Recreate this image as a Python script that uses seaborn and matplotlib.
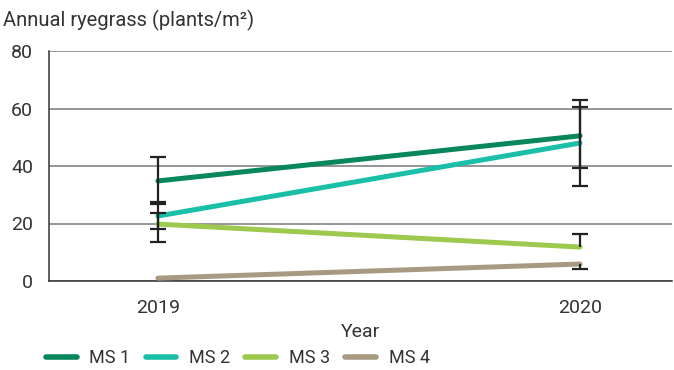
#Annual ryegrass density by management system, 2019-2020

#Import modules
import matplotlib
matplotlib.use('Agg')
import matplotlib.pyplot as plt
import numpy as np
import pandas as pd
import seaborn as sb

#Data
years = [2019, 2020]
year_labels = ['2019', '2020']
systems = ['MS 1', 'MS 2', 'MS 3', 'MS 4']
ms1 = [34.8, 50.5]
ms2 = [22.6, 48.0]
ms3 = [19.8, 11.8]
ms4 = [1.0, 5.9]
#error bars (below, above)
ms1_err = [[8.1, 11.1], [8.4, 10.1]]
ms2_err = [[4.4, 15.0], [5.0, 15.0]]
ms3_err = [[6.1, 0.0], [3.9, 4.5]]
ms4_err = [[0.0, 1.7], [0.0, 0.0]]
colours = ['#07875a', '#19bfa7', '#9cc94e', '#a89a81']

values = [ms1, ms2, ms3, ms4]
errors = [ms1_err, ms2_err, ms3_err, ms4_err]
df = pd.DataFrame({'Year': years * len(systems),
                   'Plants': np.concatenate(values),
                   'System': np.repeat(systems, len(years))})

sb.set_style('white')
plt.rcParams['font.family'] = ['Roboto', 'DejaVu Sans']
plt.rcParams['text.color'] = '#333333'

fig = plt.figure(figsize=(6.74, 3.70), dpi=100)
ax = fig.add_axes([49 / 674, 89 / 370, 623 / 674, 230 / 370])

sb.lineplot(data=df, x='Year', y='Plants', hue='System', palette=colours,
            linewidth=3.6, solid_capstyle='round', ax=ax, legend=False, zorder=3)

#Error bars on top of lines, caps only where the error is non-zero
for v, e in zip(values, errors):
    lo = np.array(v) - np.array(e[0])
    hi = np.array(v) + np.array(e[1])
    ax.vlines(years, lo, hi, color='#222222', linewidth=1.6, zorder=4)
    for x, y, err in zip(years * 2, np.concatenate([lo, hi]), np.concatenate(e)):
        if err > 0:
            ax.plot(x, y, marker='_', markersize=12, markeredgewidth=1.6,
                    color='#222222', zorder=4)

ax.set_xlim(2019 - 0.258, 2020 + 0.218)
ax.set_ylim(0, 80)
ax.set_yticks([0, 20, 40, 60, 80])
ax.set_xticks(years)
ax.set_xticklabels(year_labels)
ax.yaxis.grid(True, color='#8c8c8c', linewidth=1.3)
ax.xaxis.grid(False)
for s in ['top', 'right']:
    ax.spines[s].set_visible(False)
ax.spines['left'].set_color('#333333')
ax.spines['left'].set_linewidth(1.1)
ax.spines['bottom'].set_color('#333333')
ax.spines['bottom'].set_linewidth(1.1)
ax.tick_params(axis='y', length=8.5, width=1.3, color='#8c8c8c', pad=3,
               labelsize=14, labelcolor='#333333')
ax.tick_params(axis='x', length=6, width=1.3, color='#8c8c8c', pad=7,
               labelsize=14, labelcolor='#333333')
ax.set_xlabel('Year', fontsize=14, color='#333333', labelpad=4)
ax.set_ylabel('')

fig.text(0.004, 1 - 20 / 370, 'Annual ryegrass (plants/m\u00b2)', fontsize=14.5,
         color='#333333', ha='left', va='center')

#Legend along the bottom
handles = [plt.Line2D([], [], color=c, linewidth=4, solid_capstyle='round')
           for c in colours]
fig.legend(handles, systems, loc='center left', bbox_to_anchor=(0.068, 1 - 358 / 370),
           ncol=4, frameon=False, fontsize=13, handlelength=1.7, handletextpad=0.7,
           columnspacing=0.85, borderaxespad=0, borderpad=0)

plt.savefig('out.png', dpi=100)
